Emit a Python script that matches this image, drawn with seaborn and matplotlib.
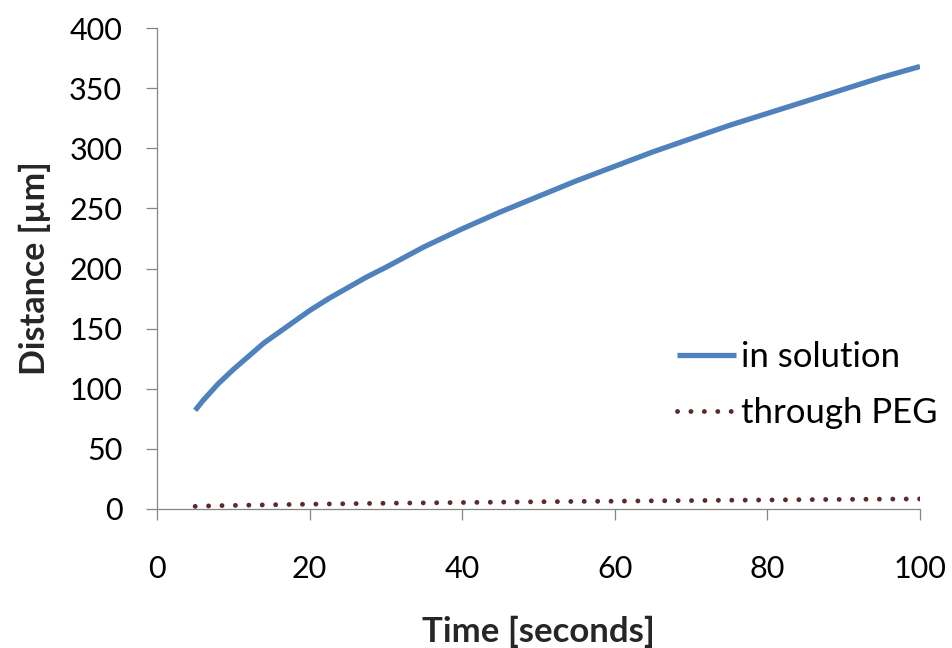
import matplotlib
matplotlib.use("Agg")
import matplotlib.pyplot as plt
import seaborn as sns
import pandas as pd

# ---- data ----
time_s = [5, 6, 7, 8, 9, 10, 12, 14, 16, 18, 20, 22.5, 25, 27.5, 30, 35, 40, 45, 50,
          55, 60, 65, 70, 75, 80, 85, 90, 95, 100]
in_solution = [82, 90, 97, 104, 110, 116, 127, 138, 147, 156, 165, 175, 184, 193, 201,
               218, 233, 247, 260, 273, 285, 297, 308, 319, 329, 339, 349, 359, 368]
through_peg = [2.2, 2.4, 2.6, 2.8, 2.9, 3.0, 3.2, 3.4, 3.6, 3.8, 4.0, 4.2, 4.4, 4.6, 4.8,
               5.1, 5.4, 5.7, 6.0, 6.3, 6.5, 6.8, 7.0, 7.3, 7.5, 7.8, 8.0, 8.2, 8.4]
series_names = ["in solution", "through PEG"]
x_ticks = [0, 20, 40, 60, 80, 100]
y_ticks = [0, 50, 100, 150, 200, 250, 300, 350, 400]
x_label = "Time [seconds]"
y_label = "Distance [\u00b5m]"

df = pd.DataFrame({
    "time": time_s * 2,
    "distance": in_solution + through_peg,
    "series": [series_names[0]] * len(time_s) + [series_names[1]] * len(time_s),
})

sns.set_theme(style="white")
plt.rcParams["font.family"] = ["Lato", "DejaVu Sans"]

fig = plt.figure(figsize=(9.53, 6.48), dpi=100)
ax = fig.add_axes([157 / 953, 1 - 509 / 648, (920 - 157) / 953, (509 - 28) / 648])

blue = "#4F81BD"
maroon = "#5B2A2A"

sns.lineplot(data=df[df.series == series_names[0]], x="time", y="distance",
             ax=ax, color=blue, linewidth=3.8, label=series_names[0],
             solid_capstyle="butt", solid_joinstyle="round")
sns.lineplot(data=df[df.series == series_names[1]], x="time", y="distance",
             ax=ax, color=maroon, linewidth=3.5, label=series_names[1],
             linestyle=(0, (0.01, 2.75)), dash_capstyle="round")

ax.set_xlim(0, 100)
ax.set_ylim(0, 400)
ax.set_xticks(x_ticks)
ax.set_yticks(y_ticks)

for s in ["top", "right"]:
    ax.spines[s].set_visible(False)
for s in ["left", "bottom"]:
    ax.spines[s].set_color("#868686")
    ax.spines[s].set_linewidth(0.9)

ax.tick_params(axis="both", which="major", direction="out", length=8,
               width=0.9, color="#868686", labelsize=22, labelcolor="#000000")
ax.tick_params(axis="y", pad=17)
ax.tick_params(axis="x", pad=25)
ax.tick_params(left=True, bottom=True)

ax.set_xlabel(x_label, fontsize=25, fontweight="bold", labelpad=24)
ax.set_ylabel(y_label, fontsize=24.5, fontweight="bold", labelpad=13)

leg = ax.legend(loc="upper left", bbox_to_anchor=(677 / 953, 1 - 341 / 648),
                bbox_transform=fig.transFigure, frameon=False, fontsize=25,
                handlelength=1.7, handletextpad=0.15, labelspacing=0.7,
                borderpad=0, borderaxespad=0)
for t in leg.get_texts():
    t.set_color("#000000")

fig.savefig("out.png", dpi=100, facecolor="white")
